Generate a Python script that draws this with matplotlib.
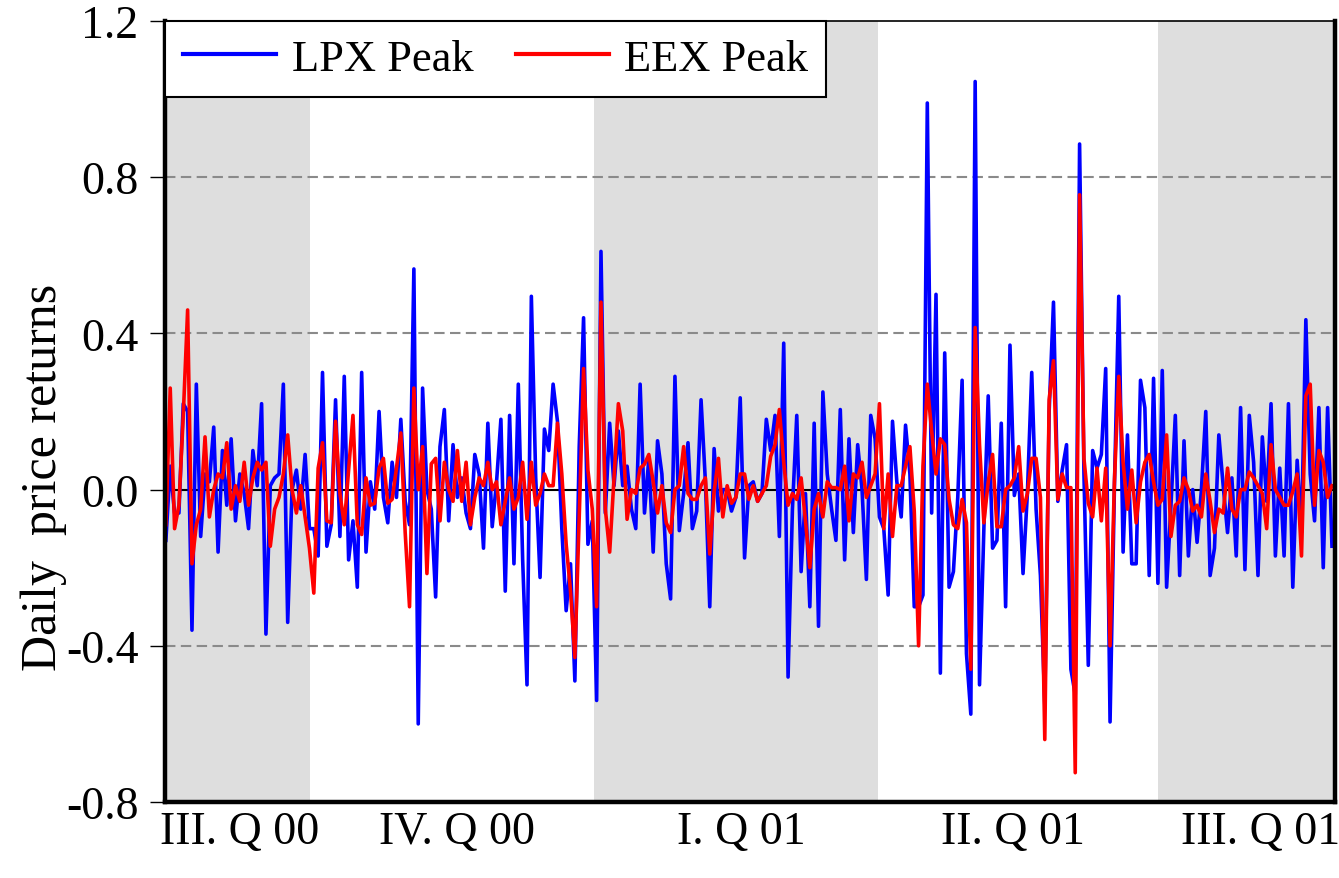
import matplotlib
matplotlib.use("Agg")
import matplotlib.pyplot as plt
import numpy as np

# Daily peak price returns, one value per trading day (Aug 2000 - Aug 2001)
lpx_peak = [
    -0.13, 0.06, -0.06, -0.06, 0.22, 0.20, -0.36, 0.27, -0.12, 0.04, 0.02, 0.16,
    -0.16, 0.10, -0.04, 0.13, -0.08, 0.04, -0.01, -0.10, 0.10, 0.01, 0.22, -0.37,
    0.01, 0.03, 0.04, 0.27, -0.34, 0.00, 0.05, -0.05, 0.09, -0.10,
    -0.10, -0.17, 0.30, -0.145, -0.09, 0.23, -0.12, 0.29, -0.18, -0.08, -0.25, 0.30,
    -0.16, 0.02, -0.05, 0.20, -0.02, -0.085, 0.07, -0.02, 0.18, -0.03, -0.09, 0.565,
    -0.60, 0.26, 0.00, -0.05, -0.275, 0.11, 0.205, -0.08, 0.115,
    -0.02, 0.03, -0.06, -0.10, 0.09, 0.04, -0.15, 0.17, -0.095, 0.02, 0.18, -0.26,
    0.19, -0.19, 0.27, -0.18, -0.50, 0.495, 0.03, -0.225, 0.155, 0.10, 0.27, 0.175,
    -0.10, -0.31, -0.19, -0.49, 0.11, 0.44, -0.14, -0.08, -0.54,
    0.61, -0.06, 0.17, 0.01, 0.15, 0.01, 0.06, -0.05, -0.10, 0.27, -0.06, 0.08,
    -0.16, 0.125, 0.04, -0.19, -0.28, 0.29, -0.105, -0.01, 0.12, -0.10, -0.055, 0.23,
    0.02, -0.30, 0.105, -0.055, 0.00, 0.00, -0.055, -0.02, 0.235, -0.175,
    0.01, 0.02, -0.03, -0.01, 0.18, 0.10, 0.19, -0.12, 0.375, -0.48, -0.05, 0.19,
    -0.21, -0.01, -0.30, 0.17, -0.35, 0.25, 0.04, -0.05, -0.13, 0.205, -0.18, 0.13,
    -0.11, 0.115, 0.00, -0.23, 0.19, 0.13, -0.07, -0.10, -0.27,
    0.175, 0.02, -0.07, 0.165, 0.04, -0.30, -0.30, -0.27, 0.99, -0.06, 0.50, -0.47,
    0.35, -0.25, -0.21, -0.02, 0.28, -0.42, -0.575, 1.045, -0.50, -0.10, 0.24, -0.15,
    -0.13, 0.17, -0.30, 0.37, -0.015, 0.04, -0.215, -0.01, 0.30,
    -0.05, -0.22, -0.55, 0.20, 0.48, -0.03, 0.05, 0.115, -0.46, -0.525, 0.885, 0.04,
    -0.45, 0.10, 0.055, 0.09, 0.31, -0.595, 0.005, 0.495, -0.16, 0.14, -0.19, -0.19,
    0.28, 0.21, -0.22, 0.285, -0.24, 0.305, -0.25, -0.04, 0.19, -0.22,
    0.125, -0.17, 0.00, -0.135, 0.00, 0.20, -0.22, -0.15, 0.14, 0.01, -0.11, 0.03,
    -0.17, 0.21, -0.205, 0.19, 0.07, -0.22, 0.135, -0.03, 0.22, -0.17, 0.055, -0.17,
    0.22, -0.25, 0.075, -0.11, 0.435, 0.04, -0.08, 0.21, -0.20, 0.21, -0.145,
]

eex_peak = [
    -0.09, 0.26, -0.10, -0.04, 0.19, 0.46, -0.19, -0.09, -0.05, 0.135, -0.07, 0.00,
    0.04, 0.03, 0.12, -0.05, 0.01, -0.03, 0.07, -0.04, 0.03, 0.07, 0.05, 0.07,
    -0.145, -0.05, -0.02, 0.04, 0.14, 0.00, -0.06, 0.01, -0.07, -0.15,
    -0.265, 0.055, 0.12, -0.08, -0.085, 0.175, -0.01, -0.09, 0.05, 0.19, -0.09, -0.115,
    0.03, -0.04, -0.035, 0.055, 0.08, -0.035, -0.025, 0.055, 0.145, -0.11, -0.30, 0.26,
    0.00, 0.11, -0.215, 0.066, 0.08, -0.08, 0.07, 0.00, -0.03,
    0.10, -0.03, 0.07, -0.09, -0.02, 0.03, 0.01, 0.07, 0.00, 0.02, -0.09, -0.03,
    0.03, -0.05, -0.02, 0.07, -0.076, 0.07, -0.04, -0.01, 0.04, 0.01, 0.01, 0.17,
    0.04, -0.14, -0.26, -0.43, -0.07, 0.31, 0.05, -0.05, -0.30,
    0.48, -0.05, -0.16, 0.03, 0.22, 0.15, -0.076, 0.00, -0.01, 0.055, 0.065, 0.09,
    0.02, -0.06, 0.01, -0.085, -0.11, 0.00, 0.01, 0.11, -0.01, -0.025, -0.025, 0.01,
    0.03, -0.165, -0.005, 0.08, -0.07, 0.01, -0.035, -0.02, 0.04, 0.04,
    -0.025, 0.01, -0.03, -0.01, 0.01, 0.085, 0.115, 0.205, 0.07, -0.04, -0.01, -0.025,
    0.03, -0.08, -0.20, -0.05, -0.01, -0.07, 0.02, 0.005, 0.005, 0.00, 0.06, -0.08,
    0.04, 0.03, 0.07, -0.02, 0.01, 0.04, 0.22, -0.10, 0.04,
    -0.12, 0.01, 0.01, 0.06, 0.11, -0.055, -0.40, 0.06, 0.27, 0.15, 0.04, 0.13,
    0.115, -0.025, -0.09, -0.10, -0.025, -0.085, -0.46, 0.415, 0.115, -0.085, 0.02, 0.09,
    -0.095, -0.095, 0.00, 0.01, 0.03, 0.11, -0.055, -0.01, 0.08,
    0.08, -0.02, -0.64, 0.23, 0.33, -0.025, 0.04, 0.005, 0.005, -0.725, 0.755, 0.08,
    -0.035, -0.07, 0.055, -0.08, 0.055, -0.40, 0.02, 0.29, 0.07, -0.05, 0.05, -0.085,
    0.02, 0.07, 0.09, 0.02, -0.04, -0.025, 0.14, -0.12, -0.04, -0.03,
    0.03, 0.00, -0.055, -0.04, -0.07, 0.04, -0.03, -0.11, -0.05, -0.06, 0.055, -0.05,
    -0.07, 0.00, 0.00, 0.045, 0.03, 0.01, -0.01, -0.10, 0.115, 0.00, -0.02, -0.04,
    -0.04, -0.005, 0.04, -0.17, 0.24, 0.27, -0.04, 0.10, 0.07, -0.02, 0.01,
]

quarter_labels = ["III. Q 00", "IV. Q 00", "I. Q 01", "II. Q 01", "III. Q 01"]
y_tick_values = [-0.8, -0.4, 0.0, 0.4, 0.8, 1.2]
y_tick_labels = ["-0.8", "-0.4", "0.0", "0.4", "0.8", "1.2"]

# trading-day index where each new quarter begins, and label centres
quarter_starts = [33.1, 98.4, 163.7, 228.0]
label_centres = [16.9, 66.9, 132.3, 194.7, 251.5]

plt.rcParams["font.family"] = ["Liberation Serif", "DejaVu Serif"]

W, H = 1339, 879
fig = plt.figure(figsize=(W / 100, H / 100), dpi=100)
ax = fig.add_axes([165 / W, 1 - 803 / H, 1170 / W, 781 / H])

days = np.arange(len(lpx_peak))
x0, x1 = -0.2, 268.7
ax.set_xlim(x0, x1)
ax.set_ylim(-0.8, 1.2)

# alternate grey bands for every other quarter
shade = "#dedede"
ax.axvspan(x0, quarter_starts[0], color=shade, lw=0, zorder=0)
ax.axvspan(quarter_starts[1], quarter_starts[2], color=shade, lw=0, zorder=0)
ax.axvspan(quarter_starts[3], x1, color=shade, lw=0, zorder=0)

for y in (0.8, 0.4, -0.4):
    ax.axhline(y, color="#8a8a8a", lw=1.5, ls=(0, (5, 2.6)), zorder=1)
ax.axhline(0.0, color="black", lw=1.5, zorder=1.5)

ax.plot(days, lpx_peak, color="#0000ff", lw=2.6, label="LPX Peak", zorder=3)
ax.plot(days, eex_peak, color="#ff0000", lw=2.6, label="EEX Peak", zorder=4)

ax.set_yticks(y_tick_values)
ax.set_yticklabels(y_tick_labels)
ax.set_xticks(label_centres)
ax.set_xticklabels(quarter_labels)
ax.tick_params(axis="y", direction="out", length=11, width=1, labelsize=33, pad=8)
ax.tick_params(axis="x", length=0, labelsize=33, pad=6)

ax.set_ylabel("Daily  price returns", fontsize=36)
ax.yaxis.set_label_coords(-0.0838, 0.417)

for side in ("left", "bottom", "right"):
    ax.spines[side].set_linewidth(3.2)
ax.spines["top"].set_linewidth(1.2)
for sp in ax.spines.values():
    sp.set_zorder(6)

leg = ax.legend(loc="upper left", bbox_to_anchor=(0, 1), ncol=2, fontsize=32,
                frameon=True, fancybox=False, edgecolor="black", framealpha=1,
                borderaxespad=0, borderpad=0.4, handlelength=2.1,
                handletextpad=0.35, columnspacing=0.95)
leg.get_frame().set_linewidth(1.5)
for h in leg.get_lines():
    h.set_linewidth(3.0)
leg.set_zorder(7)

fig.savefig("out.png", dpi=100)
